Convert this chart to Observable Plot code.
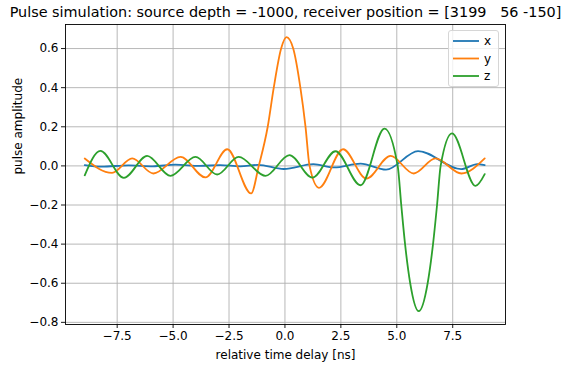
<!DOCTYPE html>
<html><head><meta charset="utf-8">
<script src="https://cdn.jsdelivr.net/npm/d3@7"></script>
<script src="https://cdn.jsdelivr.net/npm/@observablehq/plot@0.6"></script>
<style>
body{margin:0;background:#fff;font-family:"DejaVu Sans",sans-serif;}
#wrap{position:relative;width:565px;height:366px;}
svg text{white-space:pre;}
#legend{position:absolute;left:448px;top:30px;width:51px;height:57px;border:1px solid #d6d6d6;border-radius:3px;background:rgba(255,255,255,0.8);box-sizing:border-box;}
#legend svg{position:absolute;left:0;top:0;}
</style></head>
<body><div id="wrap"></div>
<script>
const titleText = "Pulse simulation: source depth = -1000, receiver position = [3199   56 -150]";
const xLabel = "relative time delay [ns]";
const yLabel = "pulse amplitude";
const seriesNames = ["x", "y", "z"];
const seriesColors = ["#1f77b4", "#ff7f0e", "#2ca02c"];
const xTicks = [-7.5, -5.0, -2.5, 0.0, 2.5, 5.0, 7.5];
const yTicks = [-0.8, -0.6, -0.4, -0.2, 0.0, 0.2, 0.4, 0.6];

// series x (blue)
const xTime = [-8.95, -8.2, -7.0, -5.9, -4.9, -3.8, -2.9, -2.0, -1.2, -0.05, 1.27, 2.2, 3.38, 4.52, 5.95, 7.88, 8.6, 8.93];
const xAmp  = [0.004, -0.004, 0.003, -0.002, 0.006, 0.000, 0.004, -0.002, 0.005, -0.016, 0.009, -0.008, 0.012, -0.019, 0.076, -0.017, 0.009, 0.004];
// series y (orange)
const yTime = [-8.95, -7.73, -6.83, -5.88, -4.67, -3.55, -2.58, -1.51, -1.17, -0.77, -0.5, -0.17, 0.07, 0.37, 0.69, 0.92, 1.1, 1.52, 2.6, 3.64, 4.72, 5.76, 6.73, 7.89, 8.93];
const yAmp  = [0.038, -0.036, 0.038, -0.039, 0.046, -0.059, 0.085, -0.141, 0.0, 0.2, 0.4, 0.6, 0.658, 0.6, 0.4, 0.2, 0.0, -0.112, 0.085, -0.065, 0.051, -0.039, 0.038, -0.039, 0.038];
// series z (green)
const zTime = [-8.95, -8.25, -7.2, -6.16, -5.12, -4.0, -3.03, -2.07, -0.87, 0.2, 1.23, 2.26, 3.38, 4.45, 5.04, 5.2, 5.37, 5.6, 5.98, 6.38, 6.62, 6.8, 6.96, 7.47, 8.52, 8.93];
const zAmp  = [-0.048, 0.077, -0.061, 0.051, -0.051, 0.046, -0.044, 0.046, -0.051, 0.055, -0.06, 0.075, -0.099, 0.191, 0.0, -0.2, -0.4, -0.6, -0.743, -0.6, -0.4, -0.2, 0.0, 0.166, -0.102, -0.042];

const rows = [];
[[xTime, xAmp], [yTime, yAmp], [zTime, zAmp]].forEach(([ts, vs], i) => {
  ts.forEach((t, j) => rows.push({t, v: vs[j], s: seriesNames[i]}));
});

const fmt = d3.format(".1f");
const plot = Plot.plot({
  width: 565, height: 366,
  marginLeft: 65, marginRight: 60, marginTop: 24, marginBottom: 42,
  style: {fontFamily: "DejaVu Sans", fontSize: "12px", background: "white", color: "black"},
  x: {domain: [-9.81, 9.86], label: null},
  y: {domain: [-0.811, 0.723], label: null},
  color: {domain: seriesNames, range: seriesColors},
  marks: [
    Plot.gridX(xTicks, {stroke: "#b0b0b0", strokeOpacity: 1, strokeWidth: 0.9}),
    Plot.gridY(yTicks, {stroke: "#b0b0b0", strokeOpacity: 1, strokeWidth: 0.9}),
    Plot.line(rows, {x: "t", y: "v", z: "s", stroke: "s", strokeWidth: 1.8, curve: "monotone-x"}),
    Plot.frame({stroke: "black", strokeWidth: 0.9}),
    Plot.axisX(xTicks, {tickSize: 4, tickPadding: 3, tickFormat: fmt, label: null, fontSize: 12, strokeWidth: 0.9}),
    Plot.axisY(yTicks, {tickSize: 4, tickPadding: 3, tickFormat: fmt, label: null, fontSize: 12, strokeWidth: 0.9}),
    Plot.text([titleText], {frameAnchor: "top", lineAnchor: "middle", dy: -12, fontSize: 14.4}),
    Plot.text([xLabel], {frameAnchor: "bottom", lineAnchor: "middle", dy: 31, fontSize: 12}),
    Plot.text([yLabel], {frameAnchor: "left", lineAnchor: "middle", rotate: -90, dx: -47, fontSize: 12})
  ]
});
const wrap = document.getElementById("wrap");
wrap.appendChild(plot);

// legend
const leg = document.createElement("div");
leg.id = "legend";
const ns = "http://www.w3.org/2000/svg";
const ls = document.createElementNS(ns, "svg");
ls.setAttribute("width", 51); ls.setAttribute("height", 57);
seriesNames.forEach((name, i) => {
  const y = 10 + i * 17.5;
  const ln = document.createElementNS(ns, "line");
  ln.setAttribute("x1", 4); ln.setAttribute("x2", 30);
  ln.setAttribute("y1", y); ln.setAttribute("y2", y);
  ln.setAttribute("stroke", seriesColors[i]); ln.setAttribute("stroke-width", 1.8);
  ls.appendChild(ln);
  const tx = document.createElementNS(ns, "text");
  tx.setAttribute("x", 35); tx.setAttribute("y", y + 4);
  tx.setAttribute("font-size", 12); tx.setAttribute("font-family", "DejaVu Sans");
  tx.textContent = name;
  ls.appendChild(tx);
});
leg.appendChild(ls);
wrap.appendChild(leg);
</script>
</body></html>
